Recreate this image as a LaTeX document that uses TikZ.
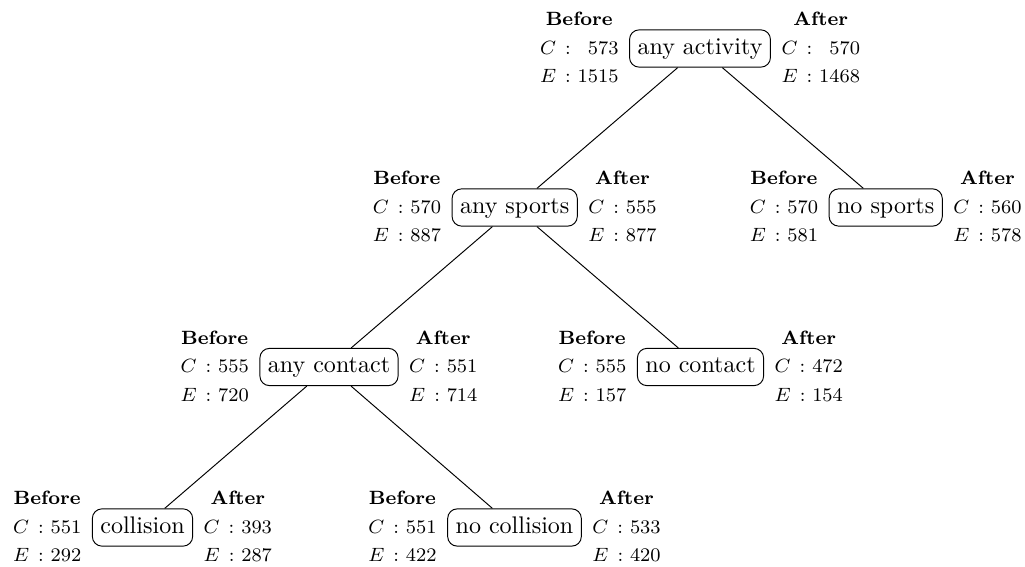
\documentclass[tikz,border=0pt]{standalone}
\usepackage{array}
\newcommand\befaft[3]{{\renewcommand\arraystretch{1.25}%
\begin{tabular}{@{}l@{}r@{}}\multicolumn{2}{@{}c@{}}{\makebox[0pt]{\textbf{#1}}}\\
$C\mkern3mu:\mkern1mu{}$ & $#2$\\ $E\mkern3mu:\mkern1mu{}$ & $#3$\end{tabular}}}
\begin{document}
\begin{tikzpicture}[x=0.416pt,y=-0.416pt,
  box/.style={draw,rounded corners=4pt,line width=0.4pt,inner sep=3.33pt,
    text height=6.9pt,text depth=1.95pt,font=\normalsize},
  lbl/.style={inner sep=0pt,font=\footnotesize},
  edge/.style={draw,line width=0.4pt}]
\useasboundingbox (0,0) rectangle (1025,567);
\node[box] (a) at (700,48.5) {any activity};
\node[box] (b) at (514.7,207.5) {any sports};
\node[box] (c) at (885.7,207.5) {no sports};
\node[box] (d) at (329,367) {any contact};
\node[box] (e) at (700.5,367) {no contact};
\node[box] (f) at (142.5,527.5) {collision};
\node[box] (g) at (514.5,527.5) {no collision};
% labels
\node[lbl,anchor=east] (aL) at ([xshift=-4.2pt]a.west) {\befaft{Before}{573}{1515}};
\node[lbl,anchor=west] (aR) at ([xshift=4.2pt]a.east) {\befaft{After}{570}{1468}};
\node[lbl,anchor=east] (bL) at ([xshift=-4.2pt]b.west) {\befaft{Before}{570}{887}};
\node[lbl,anchor=west] (bR) at ([xshift=4.2pt]b.east) {\befaft{After}{555}{877}};
\node[lbl,anchor=east] (cL) at ([xshift=-4.2pt]c.west) {\befaft{Before}{570}{581}};
\node[lbl,anchor=west] (cR) at ([xshift=4.2pt]c.east) {\befaft{After}{560}{578}};
\node[lbl,anchor=east] (dL) at ([xshift=-4.2pt]d.west) {\befaft{Before}{555}{720}};
\node[lbl,anchor=west] (dR) at ([xshift=4.2pt]d.east) {\befaft{After}{551}{714}};
\node[lbl,anchor=east] (eL) at ([xshift=-4.2pt]e.west) {\befaft{Before}{555}{157}};
\node[lbl,anchor=west] (eR) at ([xshift=4.2pt]e.east) {\befaft{After}{472}{154}};
\node[lbl,anchor=east] (fL) at ([xshift=-4.2pt]f.west) {\befaft{Before}{551}{292}};
\node[lbl,anchor=west] (fR) at ([xshift=4.2pt]f.east) {\befaft{After}{393}{287}};
\node[lbl,anchor=east] (gL) at ([xshift=-4.2pt]g.west) {\befaft{Before}{551}{422}};
\node[lbl,anchor=west] (gR) at ([xshift=4.2pt]g.east) {\befaft{After}{533}{420}};
% edges
\path[edge] (a) -- (b);
\path[edge] (a) -- (c);
\path[edge] (b) -- (d);
\path[edge] (b) -- (e);
\path[edge] (d) -- (f);
\path[edge] (d) -- (g);
\end{tikzpicture}
\end{document}
